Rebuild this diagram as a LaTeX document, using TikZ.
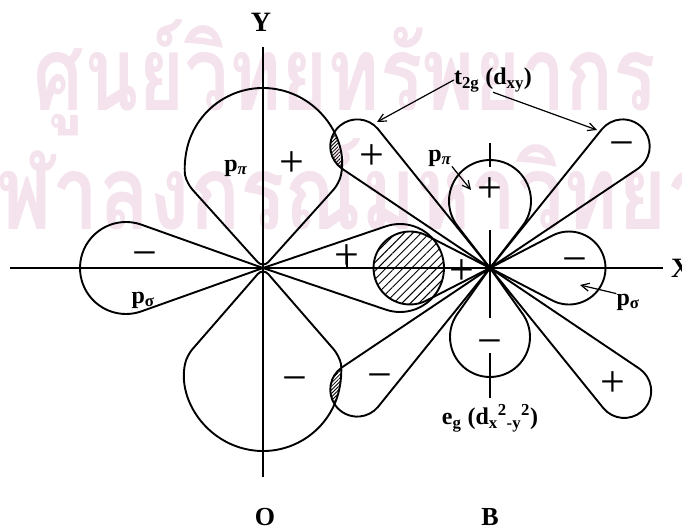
\documentclass[tikz,border=0pt]{standalone}
\usepackage{fontspec}
\setmainfont{Liberation Serif}
\newfontfamily\thaifont[Script=Thai]{Loma}
\usetikzlibrary{arrows.meta,patterns.meta}

% lobe outline: #2 apex, #3 axis angle, #4 apex-to-bulb distance,
% #5 bulb radius, #6 half angle of the straight sides
\newcommand\orbital[6][]{%
  \pgfmathsetmacro\obB{#6}%
  \pgfmathsetmacro\obS{#4*sin(\obB)}%
  \pgfmathsetmacro\obT{#4*cos(\obB)+sqrt(max((#5-\obS)*(#5+\obS),0))}%
  \pgfmathsetmacro\obG{atan2(\obT*sin(\obB),\obT*cos(\obB)-#4)}%
  \path[#1] (#2) -- ++(#3+\obB:\obT)
    arc[start angle=#3+\obG, end angle=#3-\obG, radius=#5] -- cycle;%
}

\definecolor{wm}{RGB}{244,226,236}

\tikzset{
  lobe/.style={draw, line width=1.9pt, line join=round},
  axisline/.style={line width=1.4pt},
  sgn/.style={inner sep=0pt, anchor=base, yshift=-14pt, font=\fontsize{44}{44}\selectfont},
  lbl/.style={inner sep=0pt, font=\fontsize{24}{26}\selectfont\bfseries},
  axlbl/.style={inner sep=0pt, font=\fontsize{28}{30}\selectfont\bfseries},
  ptr/.style={line width=1.2pt, -{Straight Barb[length=8pt,width=8pt]}},
  hatchbig/.style={pattern={Lines[angle=45,distance=6pt,line width=1pt]}},
  hatchsmall/.style={pattern={Lines[angle=45,distance=2.5pt,line width=0.8pt]}},
  wmark/.style={inner sep=0pt, text=wm, font=\thaifont\bfseries\fontsize{90}{90}\selectfont},
}

\begin{document}
\begin{tikzpicture}[x=1pt,y=-1pt]
\useasboundingbox (0,0) rectangle (682,527);

% faint background lettering
\node[wmark] (wm1) at (345,78) {\scalebox{0.88}[1.15]{ศูนย์วิทยทรัพยากร}};
\node[wmark] (wm2) at (380,198) {\scalebox{0.92}[1.15]{จุฬาลงกรณ์มหาวิทยาลัย}};

\coordinate (O) at (263,268);
\coordinate (B) at (490,268);

% overlap regions
\begin{scope}
  \orbital[clip]{O}{0}{137}{44}{asin(44/137)}
  \orbital[hatchbig]{B}{180}{80}{36.5}{asin(36.5/80)}
\end{scope}
\begin{scope}
  \orbital[clip]{O}{-90}{102}{78}{42}
  \orbital[hatchsmall]{B}{-137.5}{180}{27}{asin(27/180)}
\end{scope}
\begin{scope}
  \orbital[clip]{O}{90}{105}{78}{41}
  \orbital[hatchsmall]{B}{137.5}{180}{27}{asin(27/180)}
\end{scope}

% axes
\coordinate (xl) at (10,268);
\coordinate (xr) at (663,268);
\coordinate (yt) at (263,47);
\coordinate (yb) at (263,477);
\draw[axisline] (xl) -- (xr);
\draw[axisline] (yt) -- (yb);
\coordinate (bt1) at (490,143); \coordinate (bt2) at (490,167);
\coordinate (bm1) at (490,230); \coordinate (bm2) at (490,318);
\coordinate (bb1) at (490,353); \coordinate (bb2) at (490,398);
\draw[axisline] (bt1) -- (bt2);
\draw[axisline] (bm1) -- (bm2);
\draw[axisline] (bb1) -- (bb2);

% p orbitals on O
\orbital[lobe]{O}{180}{137}{46}{asin(46/137)}
\orbital[lobe]{O}{0}{137}{44}{asin(44/137)}
\orbital[lobe,rounded corners=8pt]{O}{-90}{102}{78}{42}
\orbital[lobe,rounded corners=8pt]{O}{90}{105}{78}{41}

% d orbitals on B
\orbital[lobe]{B}{-90}{67}{41}{asin(41/67)}
\orbital[lobe]{B}{90}{69}{40}{asin(40/69)}
\orbital[lobe]{B}{0}{79}{36.5}{asin(36.5/79)}
\orbital[lobe]{B}{180}{80}{36.5}{asin(36.5/80)}
\orbital[lobe]{B}{-137.5}{180}{27}{asin(27/180)}
\orbital[lobe]{B}{-42.5}{180}{27}{asin(27/180)}
\orbital[lobe]{B}{42.5}{182}{27}{asin(27/182)}
\orbital[lobe]{B}{137.5}{180}{27}{asin(27/180)}

% signs
\node[sgn] (s1) at (145,253) {−};
\node[sgn] (s2) at (292,162) {+};
\node[sgn] (s3) at (347,255) {+};
\node[sgn] (s4) at (295,378) {−};
\node[sgn] (s5) at (372,155) {+};
\node[sgn] (s6) at (622,143) {−};
\node[sgn] (s7) at (613,382) {+};
\node[sgn] (s8) at (380,375) {−};
\node[sgn] (s9) at (490,188) {+};
\node[sgn] (s10) at (490,341) {−};
\node[sgn] (s11) at (575,259) {−};
\node[sgn] (s12) at (462,270) {+};
\coordinate (s3top) at (347,255);
\coordinate (s3foot) at (347,268);
\draw[line width=1.2pt] (s3top) -- (s3foot);

% labels
\node[axlbl] (Ylab) at (261,22) {Y};
\node[axlbl,anchor=west] (Xlab) at (671,268) {X};
\node[lbl,font=\fontsize{26}{28}\selectfont\bfseries] (Olab) at (265,517) {O};
\node[lbl,font=\fontsize{26}{28}\selectfont\bfseries] (Blab) at (490,517) {B};
\node[lbl] (ppiO) at (236,168) {p\textsubscript{\textit{π}}};
\node[lbl] (psO) at (143,300) {p\textsubscript{σ}};
\node[lbl] (ppiB) at (440,158) {p\textsubscript{\textit{π}}};
\node[lbl] (psB) at (628,302) {p\textsubscript{σ}};
\node[lbl] (t2g) at (493,80) {t\textsubscript{2g} (d\textsubscript{xy})};
\node[lbl] (eg) at (490,418) {e\textsubscript{g} (d\textsubscript{x}\textsuperscript{2}\textsubscript{-y}\textsuperscript{2})};

% pointers
\coordinate (dxyUL) at (377,122);
\coordinate (dxyUR) at (597,130);
\coordinate (pzB) at (471,190);
\coordinate (pxB) at (580,285);
\draw[ptr] (t2g.west) -- (dxyUL);
\draw[ptr] (t2g.south) -- (dxyUR);
\draw[ptr] (ppiB.south east) -- (pzB);
\draw[ptr] (psB.north west) -- (pxB);
\end{tikzpicture}
\end{document}
